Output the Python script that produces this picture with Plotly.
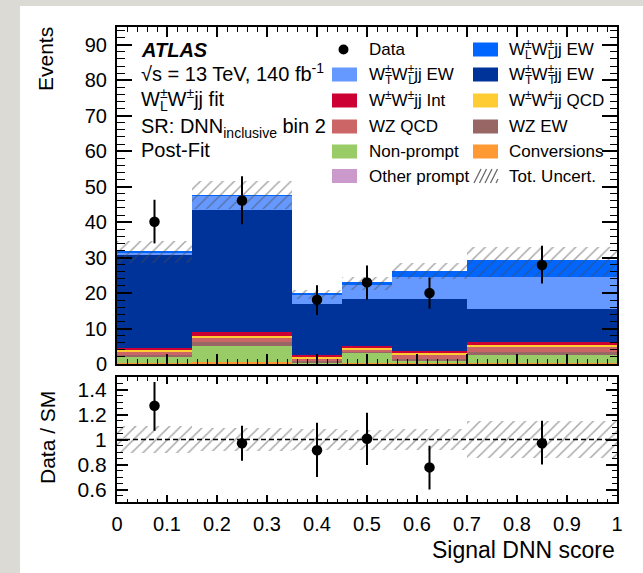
import numpy as np
import plotly.graph_objects as go

# ---------------- data ----------------
bin_edges = [0.0, 0.15, 0.35, 0.45, 0.55, 0.70, 1.0]

# stacked components, bottom -> top
other_prompt = [0.10, 0.15, 0.05, 0.05, 0.05, 0.10]
conversions  = [0.20, 0.30, 0.10, 0.15, 0.10, 0.20]
non_prompt   = [1.70, 4.65, 0.35, 2.90, 0.85, 2.30]
wz_ew        = [0.50, 1.00, 0.30, 0.40, 0.50, 0.70]
wz_qcd       = [1.00, 1.30, 0.80, 0.60, 1.30, 1.60]
ww_qcd       = [0.40, 0.45, 0.30, 0.30, 0.30, 0.50]
ww_int       = [0.70, 1.20, 0.60, 0.70, 0.70, 0.70]
ww_tt_ew     = [26.1, 34.45, 14.4, 13.3, 14.4, 9.3]
ww_tl_ew     = [0.70, 3.90, 2.80, 3.80, 6.20, 9.00]
ww_ll_ew     = [0.50, 0.15, 0.20, 0.80, 1.70, 4.80]

unc_lo = [28.5, 43.6, 18.2, 21.0, 24.1, 24.4]
unc_hi = [34.8, 51.5, 21.0, 24.6, 28.5, 33.0]

data_vals = [40.1, 46.1, 18.1, 23.0, 20.0, 27.9]
data_hi   = [46.3, 52.9, 22.2, 27.8, 24.4, 33.3]
data_lo   = [34.0, 39.4, 13.8, 18.2, 15.6, 22.7]

ratio_vals = [1.27, 0.97, 0.914, 1.006, 0.777, 0.97]
ratio_hi   = [1.46, 1.11, 1.135, 1.215, 0.95, 1.15]
ratio_lo   = [1.07, 0.83, 0.70, 0.796, 0.60, 0.80]
ratio_unc_lo = [0.89, 0.91, 0.915, 0.92, 0.915, 0.853]
ratio_unc_hi = [1.11, 1.09, 1.085, 1.08, 1.085, 1.147]

y_ticks_ratio = [0.6, 0.8, 1.0, 1.2, 1.4]
y_ticktext_ratio = ["0.6", "0.8", "1", "1.2", "1.4"]

# ---------------- style ----------------
FONT = "Liberation Sans, Arial, Helvetica, sans-serif"
C = dict(
    ll="#0066ff", tl="#6699ff", tt="#003399", intf="#cc0033", qcd="#ffcc33",
    wzqcd="#cc6666", wzew="#996666", np="#99cc66", conv="#ff9933", other="#cc99cc",
)

edges = np.array(bin_edges)
centers = 0.5 * (edges[1:] + edges[:-1])
widths = edges[1:] - edges[:-1]

stack = [
    (other_prompt, C["other"]), (conversions, C["conv"]), (non_prompt, C["np"]),
    (wz_ew, C["wzew"]), (wz_qcd, C["wzqcd"]), (ww_qcd, C["qcd"]), (ww_int, C["intf"]),
    (ww_tt_ew, C["tt"]), (ww_tl_ew, C["tl"]), (ww_ll_ew, C["ll"]),
]

fig = go.Figure()
base = np.zeros(len(centers))
for vals, col in stack:
    v = np.array(vals)
    fig.add_trace(go.Bar(x=centers, y=v, base=base.copy(), width=widths,
                         marker=dict(color=col, line=dict(width=0)),
                         xaxis="x", yaxis="y", showlegend=False, hoverinfo="skip"))
    base = base + v

hatch = dict(shape="/", fgcolor="#4a4a4a", bgcolor="rgba(0,0,0,0)", size=8,
             solidity=0.18, fillmode="overlay")
ulo, uhi = np.array(unc_lo), np.array(unc_hi)
fig.add_trace(go.Bar(x=centers, y=uhi - ulo, base=ulo, width=widths,
                     marker=dict(color="rgba(0,0,0,0)", line=dict(width=0), pattern=hatch),
                     xaxis="x", yaxis="y", showlegend=False, hoverinfo="skip"))

dv = np.array(data_vals)
fig.add_trace(go.Scatter(x=centers, y=dv, mode="markers",
                         marker=dict(color="black", size=10.5),
                         error_y=dict(type="data", symmetric=False,
                                      array=np.array(data_hi) - dv,
                                      arrayminus=dv - np.array(data_lo),
                                      color="black", thickness=2, width=0),
                         xaxis="x", yaxis="y", showlegend=False))

rlo, rhi = np.array(ratio_unc_lo), np.array(ratio_unc_hi)
fig.add_trace(go.Bar(x=centers, y=rhi - rlo, base=rlo, width=widths,
                     marker=dict(color="rgba(0,0,0,0)", line=dict(width=0), pattern=hatch),
                     xaxis="x2", yaxis="y2", showlegend=False, hoverinfo="skip"))
rv = np.array(ratio_vals)
fig.add_trace(go.Scatter(x=centers, y=rv, mode="markers",
                         marker=dict(color="black", size=10.5),
                         error_y=dict(type="data", symmetric=False,
                                      array=np.array(ratio_hi) - rv,
                                      arrayminus=rv - np.array(ratio_lo),
                                      color="black", thickness=2, width=0),
                         xaxis="x2", yaxis="y2", showlegend=False))

# ---------------- layout ----------------
W, H = 643, 573
ML, MR, MT, MB = 117, 26, 27, 71
PW, PH = W - ML - MR, H - MT - MB


def X(px):
    return (px - ML) / PW


def Y(py):
    return (H - MB - py) / PH


main_bottom_px, ratio_top_px = 364, 377

common = dict(showline=True, linewidth=2, linecolor="black", mirror="allticks",
              ticks="inside", tickcolor="black", showgrid=False, zeroline=False)

fig.update_layout(
    width=W, height=H,
    margin=dict(l=ML, r=MR, t=MT, b=MB),
    paper_bgcolor="#dcdad5", plot_bgcolor="white",
    barmode="overlay", bargap=0,
    font=dict(family=FONT, color="black"),
    xaxis=dict(domain=[0, 1], anchor="y", range=[0, 1], dtick=0.1, tick0=0,
               showticklabels=False, ticklen=10, tickwidth=1.5,
               minor=dict(ticks="inside", ticklen=5, dtick=0.02, tick0=0,
                          tickcolor="black", tickwidth=1.2), **common),
    yaxis=dict(domain=[Y(main_bottom_px), 1], anchor="x", range=[0, 95], dtick=10, tick0=0,
               ticklen=15, tickwidth=1.5, tickfont=dict(size=20), ticklabelstandoff=4,
               minor=dict(ticks="inside", ticklen=7.5, dtick=2, tick0=0,
                          tickcolor="black", tickwidth=1.2), **common),
    xaxis2=dict(domain=[0, 1], anchor="y2", range=[0, 1], dtick=0.1, tick0=0,
                ticklen=7, tickwidth=1.5, tickfont=dict(size=20), ticklabelstandoff=3,
                minor=dict(ticks="inside", ticklen=3.5, dtick=0.02, tick0=0,
                           tickcolor="black", tickwidth=1.2), **common),
    yaxis2=dict(domain=[0, Y(ratio_top_px)], anchor="x2", range=[0.5, 1.5],
                tickmode="array", tickvals=y_ticks_ratio, ticktext=y_ticktext_ratio,
                ticklen=11, tickwidth=1.5, tickfont=dict(size=21), ticklabelstandoff=4,
                minor=dict(ticks="inside", ticklen=5.5, dtick=0.05, tick0=0.5,
                           tickcolor="black", tickwidth=1.2), **common),
)

shapes = []
# white card on textured background
shapes.append(dict(type="rect", xref="paper", yref="paper", x0=X(20), x1=X(W + 10),
                   y0=Y(H + 10), y1=Y(6), fillcolor="white", line=dict(width=0), layer="below"))
# dashed unity line
shapes.append(dict(type="line", xref="x2", yref="y2", x0=0, x1=1, y0=1, y1=1,
                   line=dict(color="black", width=1.5, dash="5px,3px")))

INV = lambda s: f'<span style="color:rgba(0,0,0,0)">{s}</span>'
PAD = f"<sup>{INV('±')}</sup><sub>{INV('L')}</sub>"


def build(parts):
    a, b, has_sub = "", "", False
    for base_, sup, sub in parts:
        a += base_
        b += INV(base_)
        if sup or sub:
            a += f"<sup>{sup}</sup>" if sup else f"<sup>{INV(sub)}</sup>"
            if sub:
                b += f"<sub>{sub}</sub>"
                has_sub = True
            else:
                b += f"<sub>{INV(sup)}</sub>"
    return a + PAD, (b + PAD if has_sub else None)


annotations = []


def text(px, py, parts, size, xanchor="left"):
    a, b = build(parts)
    for t in (a, b):
        if t is None:
            continue
        annotations.append(dict(xref="paper", yref="paper", x=X(px), y=Y(py), text=t,
                                showarrow=False, xanchor=xanchor, yanchor="middle",
                                font=dict(family=FONT, size=size, color="black")))


# left labels
text(139, 51, [("<b><i>ATLAS</i></b>", "", "")], 20)
text(139, 74, [("√s = 13 TeV, 140 fb", "-1", "")], 20)
text(139, 100, [("W", "±", "L"), ("W", "±", ""), ("jj fit", "", "")], 20)
text(139, 126, [("SR: DNN", "", "inclusive"), (" bin 2", "", "")], 20)
text(139, 151, [("Post-Fit", "", "")], 20)

# legend
rows = [49.5, 74.5, 100.5, 126.5, 151.5, 176]
col_sw = [(332, 357), (473, 498)]
col_tx = [367, 507]
LEG = 17
entries = [
    (0, 0, "data", [("Data", "", "")]),
    (0, 1, C["ll"], [("W", "±", "L"), ("W", "±", "L"), ("jj EW", "", "")]),
    (1, 0, C["tl"], [("W", "±", "T"), ("W", "±", "L"), ("jj EW", "", "")]),
    (1, 1, C["tt"], [("W", "±", "T"), ("W", "±", "T"), ("jj EW", "", "")]),
    (2, 0, C["intf"], [("W", "±", ""), ("W", "±", ""), ("jj Int", "", "")]),
    (2, 1, C["qcd"], [("W", "±", ""), ("W", "±", ""), ("jj QCD", "", "")]),
    (3, 0, C["wzqcd"], [("WZ QCD", "", "")]),
    (3, 1, C["wzew"], [("WZ EW", "", "")]),
    (4, 0, C["np"], [("Non-prompt", "", "")]),
    (4, 1, C["conv"], [("Conversions", "", "")]),
    (5, 0, C["other"], [("Other prompt", "", "")]),
    (5, 1, "hatch", [("Tot. Uncert.", "", "")]),
]
for r, c, kind, parts in entries:
    yc = rows[r]
    x0, x1 = col_sw[c]
    if kind == "data":
        xm = 0.5 * (x0 + x1) - 1
        shapes.append(dict(type="circle", xref="paper", yref="paper", xsizemode="pixel",
                           ysizemode="pixel", xanchor=X(xm), yanchor=Y(yc),
                           x0=-5, x1=5, y0=-5, y1=5, fillcolor="black", line=dict(width=0)))
    elif kind == "hatch":
        for k in range(5):
            sx = x0 + 1 + k * 5.5
            ex = min(sx + 7, x1)
            shapes.append(dict(type="line", xref="paper", yref="paper",
                               x0=X(sx), x1=X(ex), y0=Y(yc + 7),
                               y1=Y(yc + 7 - 14 * (ex - sx) / 7),
                               line=dict(color="#666666", width=1.2)))
    else:
        shapes.append(dict(type="rect", xref="paper", yref="paper", x0=X(x0), x1=X(x1),
                           y0=Y(yc + 7), y1=Y(yc - 7), fillcolor=kind, line=dict(width=0)))
    text(col_tx[c], yc, parts, LEG)

# axis titles
annotations.append(dict(xref="paper", yref="paper", x=X(45), y=Y(25), text="Events",
                        textangle=-90, showarrow=False, xanchor="center", yanchor="top",
                        font=dict(family=FONT, size=21)))
annotations.append(dict(xref="paper", yref="paper", x=X(47), y=Y(438), text="Data / SM",
                        textangle=-90, showarrow=False, xanchor="center", yanchor="middle",
                        font=dict(family=FONT, size=21)))
annotations.append(dict(xref="paper", yref="paper", x=X(617), y=Y(550), text="Signal DNN score",
                        showarrow=False, xanchor="right", yanchor="middle",
                        font=dict(family=FONT, size=23)))

fig.update_layout(shapes=shapes, annotations=annotations)
fig.write_html("out.html")
